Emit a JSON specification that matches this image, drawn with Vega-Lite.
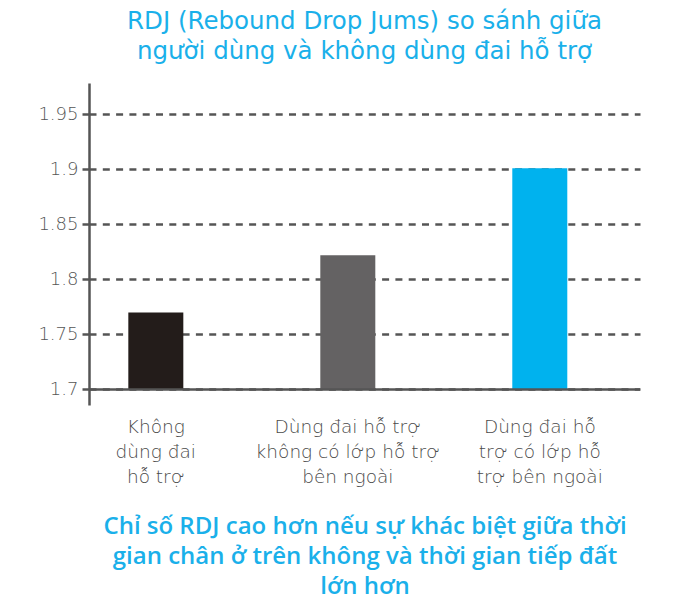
{
  "$schema": "https://vega.github.io/schema/vega-lite/v6.json",
  "width": 551,
  "height": 322,
  "autosize": "none",
  "padding": {"left": 89, "top": 83, "right": 44, "bottom": 206},
  "background": "white",
  "title": {
    "text": ["RDJ (Rebound Drop Jums) so sánh giữa", "người dùng và không dùng đai hỗ trợ"],
    "color": "#1AB0EA",
    "font": "DejaVu Sans",
    "fontSize": 24.5,
    "fontWeight": "normal",
    "lineHeight": 30,
    "anchor": "middle",
    "frame": "group",
    "baseline": "bottom",
    "offset": -5
  },
  "config": {
    "view": {"stroke": null},
    "font": "DejaVu Sans"
  },
  "data": {
    "values": [
      {"nhom": "Không dùng đai hỗ trợ", "rdj": 1.77},
      {"nhom": "Dùng đai hỗ trợ không có lớp hỗ trợ bên ngoài", "rdj": 1.822},
      {"nhom": "Dùng đai hỗ trợ có lớp hỗ trợ bên ngoài", "rdj": 1.901}
    ]
  },
  "layer": [
    {
      "mark": {"type": "bar", "size": 55},
      "encoding": {
        "x": {
          "field": "nhom",
          "type": "nominal",
          "sort": null,
          "scale": {"paddingInner": 0.5, "paddingOuter": 0.185, "align": 0.265},
          "axis": {
            "domain": false,
            "ticks": false,
            "labelAngle": 0,
            "labelFont": "DejaVu Sans",
            "labelFontSize": 18.5,
            "labelFontWeight": 200,
            "labelColor": "#4a4a4a",
            "labelLineHeight": 25,
            "labelPadding": 12,
            "labelBaseline": "top",
            "labelLimit": 250,
            "labelExpr": "datum.value == 'Không dùng đai hỗ trợ' ? ['Không', 'dùng đai', 'hỗ trợ'] : datum.value == 'Dùng đai hỗ trợ không có lớp hỗ trợ bên ngoài' ? ['Dùng đai hỗ trợ', 'không có lớp hỗ trợ', 'bên ngoài'] : ['Dùng đai hỗ', 'trợ có lớp hỗ', 'trợ bên ngoài']",
            "title": ["Chỉ số RDJ cao hơn nếu sự khác biệt giữa thời", "gian chân ở trên không và thời gian tiếp đất", "lớn hơn"],
            "titleColor": "#1AB0EA",
            "titleFont": "Open Sans",
            "titleFontSize": 24,
            "titleFontWeight": 600,
            "titleLineHeight": 30,
            "titlePadding": 29
          }
        },
        "y": {
          "field": "rdj",
          "type": "quantitative",
          "scale": {"domain": [1.6859, 1.9784], "nice": false, "zero": false},
          "axis": {
            "values": [1.7, 1.75, 1.8, 1.85, 1.9, 1.95],
            "format": "~g",
            "title": null,
            "domainColor": "#555555",
            "domainWidth": 2.5,
            "tickColor": "#555555",
            "tickWidth": 2.5,
            "tickSize": 7,
            "labelPadding": 4,
            "labelFont": "DejaVu Sans",
            "labelFontSize": 18,
            "labelFontWeight": 200,
            "labelColor": "#555555",
            "grid": true,
            "gridColor": "#555555",
            "gridWidth": 2.5,
            "gridDash": [7, 6.3]
          }
        },
        "y2": {"datum": 1.7},
        "color": {
          "field": "nhom",
          "type": "nominal",
          "sort": null,
          "scale": {"range": ["#231C1A", "#646263", "#00B2EE"]},
          "legend": null
        }
      }
    },
    {
      "data": {"values": [{"base": 1.7}]},
      "mark": {"type": "rule", "color": "#555555", "strokeWidth": 2.5},
      "encoding": {"y": {"field": "base", "type": "quantitative"}}
    }
  ]
}
